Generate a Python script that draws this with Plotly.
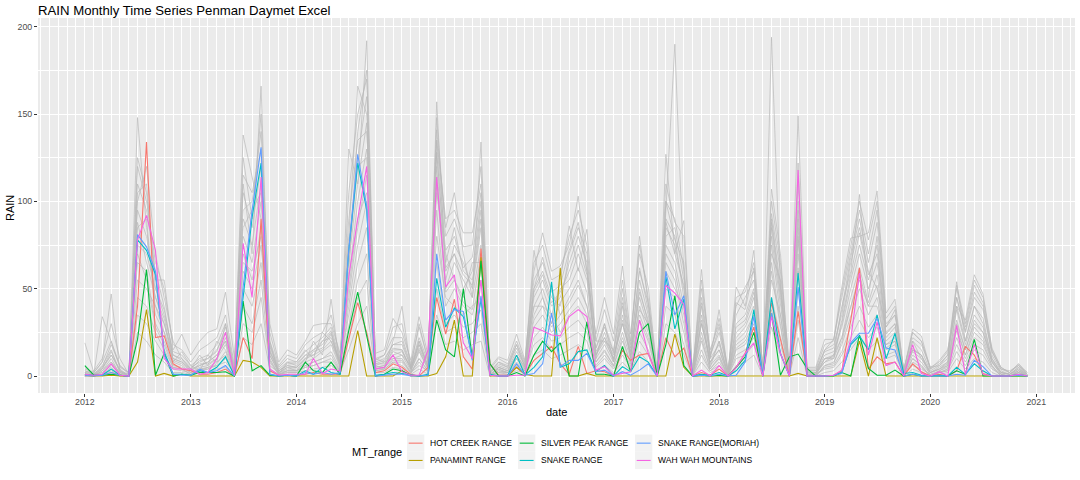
import pandas as pd
import plotly.graph_objects as go

# ---------------- data ----------------
dates = pd.date_range("2012-01-01", periods=108, freq="MS")

hot_creek = [1, 0.5, 0.5, 2, 0.5, 0, 40, 134, 22, 23, 7, 4,
             3, 1, 1, 2, 4, 0, 22, 10, 90, 3, 0.5, 0.5,
             0.5, 1, 2, 1, 1, 1, 21, 42, 25, 2, 3, 7,
             5, 1, 0, 5, 45, 24, 44, 11, 4, 73, 7, 0.5,
             0.5, 5, 1, 9, 13, 17, 7, 1, 17, 1.5, 3, 2.5,
             0, 15, 9, 12, 13, 0, 22, 11, 16, 0, 2, 0.5,
             4, 0, 5, 13, 28, 0, 42, 21, 0, 37, 0, 0,
             0, 0.5, 3, 32, 62, 4, 11, 7, 8, 0, 7, 2.5,
             0, 1, 0, 3, 17, 12, 1.5, 0, 0, 0, 0.5, 0]
panamint = [0.5, 0, 0, 0.5, 0, 0, 8, 38, 0, 1.5, 0, 1,
            0, 0, 0, 0, 0, 0, 9, 8, 5, 0, 0, 0,
            0, 0, 0, 0, 0, 0, 0, 26, 0, 0, 0, 0,
            3, 0, 0, 0, 1.5, 11, 32, 0, 0, 68, 0, 0,
            0, 5, 1, 0, 0, 0, 62, 0, 0, 1.5, 0, 0,
            0, 0, 0, 0, 0, 0, 0, 24, 5, 0, 0, 0,
            0, 0, 0, 0, 0, 0, 0, 0, 0, 1.5, 0, 0,
            0, 0, 0, 0, 20, 0, 22, 0, 0, 0, 0, 0,
            0, 0, 0, 0, 0, 0, 0, 0, 0, 0, 0, 0]
silver_peak = [6, 0.5, 0.5, 1, 0.5, 0, 21, 61, 0.5, 13, 0, 1,
               0.5, 2, 2, 2, 2.5, 0, 43, 3, 6, 0.5, 0, 0.5,
               0, 8, 3, 2, 8, 1, 26, 48, 23, 0, 1, 4,
               3, 0.5, 0, 0.5, 32, 15, 11, 50, 10, 66, 7, 0,
               0, 2, 0, 12, 20, 14, 19, 0, 0, 31, 1, 1,
               0, 17, 2.5, 25, 30, 0, 18, 46, 6, 0, 0.5, 0,
               0.5, 0, 5, 11, 25, 0, 36, 0.5, 11, 12.6, 4.4, 0,
               0, 0, 2, 0, 23.5, 4.4, 0.5, 0.5, 3.4, 0, 1, 0,
               0, 0, 0, 3, 1, 21, 0, 0, 0, 0, 0, 0]
snake = [1, 0.5, 0.5, 4, 0.5, 0, 78, 72, 58, 14, 1, 1,
         0.5, 3, 2, 5, 11, 0, 45, 91, 122, 1, 0, 0.5,
         0, 3, 1, 5, 2, 1, 72, 122, 95, 0.5, 1, 2,
         1.5, 0.5, 0, 1, 56, 28, 39, 34, 11, 44, 1, 0,
         0, 12, 0.5, 5, 11, 54, 5, 7, 14, 15, 2.5, 6,
         0, 5.4, 2.5, 11, 8, 0, 57, 27, 44, 0, 1, 0.5,
         2, 0, 3, 9, 38, 0, 45, 13, 0, 59, 0, 0,
         0, 0.5, 2, 18, 23, 15, 35, 10, 24.5, 1.5, 2, 0.5,
         0, 0.5, 0, 5, 1, 7, 3, 0, 0, 0, 1, 0]
snake_moriah = [0.5, 0, 0.5, 2, 0.5, 0, 81, 74, 60, 12, 1, 0.5,
                0.5, 4, 2, 3, 6, 0, 51, 95, 131, 1, 0, 0.5,
                0, 2, 1, 2, 1, 2, 72, 127, 97, 0, 0.5, 1,
                1, 0, 0, 0.5, 70, 32, 38, 37, 9, 46, 0.5, 0,
                0, 7, 0.5, 1.5, 7, 36, 5.4, 9, 9, 13, 2.5, 3.4,
                0, 2.5, 0.5, 3.4, 7, 0, 60, 35, 46, 0, 0.5, 0,
                1, 0, 0.5, 8, 34, 0, 36, 13, 0, 51, 0, 0,
                0, 0.5, 1.5, 19, 24.5, 24.5, 33, 16, 15, 0, 1, 0,
                0, 0, 0, 1, 0.5, 9, 5.4, 0, 0, 0, 0.5, 0]
wah_wah = [1, 0.5, 1, 7, 0.5, 0, 78, 92, 72, 10, 4, 4,
           4, 1, 2, 10, 25, 0.5, 76, 45, 114, 4, 0.5, 1,
           1, 1, 10, 1.5, 4, 3, 57, 90, 120, 4, 5, 12,
           2.5, 0.5, 0.5, 15, 114, 51, 58, 19, 10, 55, 0.5, 0,
           0, 0.5, 0.5, 28, 26, 23.5, 23, 34, 38, 34, 3.4, 5.4,
           0.5, 1.5, 2.5, 32, 13, 0, 52, 47.5, 41, 0, 3.4, 0,
           6, 0, 5, 13, 19, 0, 34, 13, 0, 118, 0, 0,
           0, 0.5, 3.4, 21, 59, 12, 31, 6, 8, 0, 18, 1.5,
           0, 2.5, 0, 29, 1, 18, 1, 0, 0, 0, 1, 0]

range_names = ["HOT CREEK RANGE", "PANAMINT RANGE", "SILVER PEAK RANGE",
               "SNAKE RANGE", "SNAKE RANGE(MORIAH)", "WAH WAH MOUNTAINS"]
range_values = [hot_creek, panamint, silver_peak, snake, snake_moriah, wah_wah]
range_colors = ["#F8766D", "#B79F00", "#00BA38", "#00BFC4", "#619CFF", "#F564E3"]

# other ranges (grey background lines)
g01 = [19, 2, 8, 47, 3, 0, 148, 85, 40, 30, 8, 14, 6, 3, 12, 8, 30, 1, 110, 70, 166, 12, 2, 5,
       3, 8, 20, 12, 44, 4, 130, 110, 192, 6, 4, 20, 40, 3, 15, 4, 157, 60, 70, 50, 60, 100, 1, 4,
       2, 10, 3, 50, 60, 45, 40, 70, 85, 70, 10, 30, 8, 40, 10, 55, 35, 0, 95, 190, 60, 0, 40, 5,
       20, 0, 30, 35, 50, 0, 194, 50, 2, 100, 1, 2, 8, 12, 40, 60, 104, 45, 80, 25, 30, 1, 20, 10,
       2, 5, 8, 54, 20, 40, 30, 10, 2, 1, 5, 0]
g02 = [5, 1, 34, 20, 6, 2, 100, 120, 70, 45, 20, 10, 4, 12, 6, 20, 15, 3, 138, 114, 90, 20, 1, 8,
       8, 15, 10, 25, 20, 8, 80, 166, 150, 10, 8, 10, 12, 6, 30, 8, 141, 85, 105, 70, 45, 134, 2, 8,
       6, 18, 5, 72, 45, 30, 55, 86, 60, 84, 20, 20, 15, 50, 18, 80, 40, 1, 127, 70, 89, 1, 61, 10,
       38, 2, 51, 40, 72, 3, 107, 70, 0, 122, 3, 1, 15, 21, 51, 79, 80, 82, 106, 36, 44, 3, 27, 23,
       4, 9, 15, 40, 32, 58, 47, 16, 5, 2, 7, 1]
g03 = [2, 3, 10, 30, 10, 1, 125, 105, 55, 55, 15, 24, 12, 20, 25, 27, 48, 10, 95, 100, 140, 30, 8, 15,
       12, 20, 29, 30, 30, 13, 60, 140, 175, 13, 15, 33, 25, 9, 34, 12, 135, 90, 95, 82, 82, 110, 5, 11,
       9, 24, 9, 60, 82, 60, 63, 75, 103, 60, 24, 45, 24, 63, 24, 70, 51, 2, 100, 90, 61, 3, 50, 15,
       30, 3, 40, 51, 60, 5, 93, 60, 5, 149, 5, 5, 21, 21, 45, 70, 95, 70, 95, 30, 35, 4, 22, 18,
       5, 6, 12, 50, 28, 52, 42, 14, 4, 3, 6, 2]
g04 = [0, 0, 5, 12, 4, 0, 110, 95, 60, 40, 10, 8, 3, 6, 8, 12, 20, 2, 105, 85, 120, 15, 3, 6,
       5, 10, 15, 18, 25, 6, 75, 125, 160, 5, 6, 15, 15, 4, 20, 5, 128, 65, 85, 60, 55, 95, 0, 5,
       3, 12, 4, 45, 55, 40, 45, 65, 80, 65, 12, 25, 10, 35, 12, 50, 30, 0, 90, 80, 45, 0, 35, 8,
       15, 0, 25, 30, 45, 0, 85, 45, 0, 95, 0, 0, 10, 10, 30, 55, 75, 55, 75, 22, 28, 0, 15, 12,
       0, 3, 6, 38, 18, 35, 28, 8, 1, 0, 3, 0]
g05 = [3, 1, 6, 15, 2, 1, 95, 80, 45, 30, 12, 10, 5, 8, 10, 15, 25, 4, 90, 75, 110, 18, 4, 8,
       6, 12, 12, 20, 22, 8, 65, 110, 145, 8, 10, 18, 18, 5, 18, 6, 120, 55, 75, 65, 50, 85, 2, 6,
       4, 14, 6, 40, 50, 35, 50, 55, 70, 55, 14, 22, 12, 30, 14, 45, 28, 1, 85, 75, 50, 1, 30, 10,
       18, 1, 22, 28, 40, 2, 80, 40, 2, 85, 2, 2, 12, 14, 28, 50, 70, 50, 65, 20, 25, 2, 14, 10,
       2, 4, 8, 32, 15, 32, 25, 10, 2, 1, 4, 1]
g06 = [1, 0, 3, 10, 1, 0, 85, 90, 35, 25, 8, 6, 2, 5, 6, 10, 18, 1, 80, 65, 100, 12, 2, 4,
       4, 8, 10, 14, 18, 5, 55, 100, 130, 5, 6, 14, 12, 3, 14, 4, 114, 50, 65, 55, 45, 75, 1, 4,
       2, 10, 4, 35, 45, 30, 42, 50, 62, 48, 10, 18, 8, 25, 10, 40, 25, 0, 75, 65, 40, 0, 25, 6,
       12, 0, 18, 22, 35, 1, 75, 35, 1, 80, 1, 1, 8, 10, 22, 45, 62, 42, 58, 18, 20, 1, 12, 8,
       1, 3, 5, 28, 12, 28, 22, 8, 1, 0, 3, 0]
g07 = [4, 2, 8, 20, 5, 2, 75, 70, 50, 35, 14, 12, 6, 10, 12, 18, 30, 5, 70, 55, 85, 20, 5, 10,
       8, 14, 18, 22, 28, 9, 45, 85, 115, 9, 12, 22, 22, 6, 22, 8, 105, 70, 55, 45, 65, 65, 3, 8,
       5, 18, 7, 55, 65, 50, 35, 45, 55, 40, 16, 30, 14, 45, 16, 60, 42, 1, 80, 85, 55, 2, 45, 12,
       25, 2, 35, 45, 55, 3, 70, 55, 3, 70, 3, 3, 15, 18, 35, 65, 85, 60, 50, 28, 38, 3, 25, 20,
       4, 7, 12, 45, 25, 45, 38, 14, 4, 2, 6, 1]
g08 = [0, 0, 2, 8, 1, 0, 65, 60, 30, 20, 6, 5, 2, 4, 5, 8, 12, 1, 60, 50, 75, 10, 1, 3,
       3, 6, 8, 10, 14, 4, 40, 75, 100, 4, 5, 10, 10, 2, 10, 3, 95, 40, 50, 40, 35, 55, 0, 3,
       2, 8, 3, 28, 35, 25, 30, 38, 45, 35, 8, 15, 6, 20, 8, 32, 20, 0, 65, 55, 30, 0, 20, 4,
       10, 0, 15, 18, 28, 0, 60, 28, 0, 60, 0, 0, 6, 8, 18, 35, 50, 35, 45, 15, 18, 0, 10, 6,
       0, 2, 4, 22, 10, 22, 18, 6, 0, 0, 2, 0]
g09 = [2, 1, 4, 12, 3, 1, 55, 50, 40, 25, 10, 8, 4, 6, 8, 12, 20, 3, 50, 40, 65, 14, 3, 6,
       5, 10, 12, 15, 20, 6, 35, 65, 85, 6, 8, 16, 15, 4, 16, 5, 80, 45, 40, 35, 40, 45, 1, 5,
       3, 12, 5, 40, 40, 35, 25, 35, 40, 30, 12, 20, 10, 30, 12, 38, 30, 1, 60, 50, 40, 1, 30, 8,
       15, 1, 20, 25, 35, 2, 55, 35, 2, 50, 2, 2, 10, 12, 22, 40, 55, 40, 40, 18, 22, 2, 15, 12,
       2, 4, 6, 30, 15, 30, 25, 8, 2, 1, 3, 1]
g10 = [0, 0, 1, 5, 0, 0, 45, 40, 25, 15, 5, 4, 1, 3, 4, 6, 10, 1, 40, 30, 55, 8, 1, 2,
       2, 5, 6, 8, 10, 3, 28, 55, 70, 3, 4, 8, 8, 2, 8, 2, 65, 30, 35, 28, 30, 38, 0, 2,
       1, 6, 2, 22, 28, 20, 22, 28, 32, 25, 6, 12, 5, 15, 6, 25, 15, 0, 50, 45, 25, 0, 15, 3,
       8, 0, 12, 15, 22, 0, 45, 22, 0, 40, 0, 0, 5, 6, 14, 28, 40, 28, 35, 12, 14, 0, 8, 5,
       0, 2, 3, 18, 8, 18, 15, 5, 0, 0, 2, 0]
g11 = [1, 0, 3, 8, 2, 0, 35, 30, 20, 12, 4, 3, 2, 3, 5, 6, 8, 2, 30, 25, 45, 6, 2, 3,
       3, 5, 6, 8, 8, 3, 22, 45, 55, 3, 4, 8, 6, 2, 6, 3, 50, 25, 28, 22, 25, 30, 1, 2,
       2, 5, 3, 18, 22, 15, 18, 22, 25, 20, 5, 10, 4, 12, 5, 20, 12, 0, 40, 35, 18, 0, 12, 3,
       6, 0, 10, 12, 18, 1, 38, 18, 1, 32, 1, 1, 4, 5, 12, 22, 32, 22, 28, 10, 12, 1, 6, 4,
       1, 2, 3, 14, 6, 15, 12, 4, 1, 0, 2, 0]
g12 = [0, 0, 1, 3, 0, 0, 25, 20, 12, 8, 2, 2, 1, 2, 2, 4, 5, 0, 22, 18, 30, 4, 1, 2,
       2, 3, 4, 5, 6, 2, 15, 30, 40, 2, 2, 5, 4, 1, 4, 1, 35, 18, 20, 15, 18, 20, 0, 1,
       1, 3, 2, 12, 15, 10, 12, 15, 18, 14, 3, 6, 2, 8, 3, 14, 8, 0, 30, 25, 12, 0, 8, 2,
       4, 0, 6, 8, 12, 0, 28, 12, 0, 22, 0, 0, 2, 3, 8, 15, 22, 15, 20, 6, 8, 0, 4, 2,
       0, 1, 2, 10, 4, 10, 8, 2, 0, 0, 1, 0]
g13 = [3, 1, 5, 18, 6, 1, 120, 100, 65, 50, 18, 15, 8, 15, 18, 22, 35, 6, 125, 90, 150, 25, 6, 12,
       10, 18, 22, 25, 35, 10, 105, 150, 170, 10, 12, 28, 30, 7, 28, 10, 148, 80, 90, 74, 75, 120, 4, 10,
       7, 20, 8, 65, 75, 55, 58, 80, 95, 75, 20, 38, 20, 55, 20, 75, 45, 2, 110, 88, 80, 2, 55, 13,
       33, 3, 45, 48, 65, 4, 100, 65, 4, 110, 4, 4, 18, 20, 48, 75, 100, 78, 100, 33, 40, 3, 25, 20,
       5, 8, 14, 52, 30, 55, 45, 15, 5, 2, 7, 2]
g14 = [2, 0, 4, 14, 3, 0, 105, 110, 50, 38, 12, 9, 4, 9, 10, 14, 28, 3, 115, 105, 130, 17, 3, 7,
       7, 12, 15, 20, 26, 7, 90, 135, 140, 7, 9, 18, 20, 5, 20, 6, 135, 72, 80, 62, 68, 105, 2, 7,
       5, 16, 6, 50, 68, 48, 52, 72, 88, 60, 16, 28, 13, 42, 14, 62, 38, 1, 100, 78, 65, 1, 42, 11,
       28, 2, 42, 38, 62, 3, 90, 52, 3, 90, 3, 3, 14, 16, 38, 68, 90, 65, 88, 28, 35, 2, 20, 15,
       3, 6, 10, 45, 26, 48, 40, 12, 3, 1, 5, 1]
g15 = [1, 1, 2, 6, 2, 0, 88, 65, 45, 33, 9, 7, 3, 7, 7, 10, 22, 2, 85, 95, 105, 14, 2, 5,
       5, 9, 14, 16, 24, 5, 70, 120, 125, 7, 7, 12, 14, 4, 18, 5, 128, 62, 70, 58, 52, 90, 1, 5,
       3, 12, 5, 48, 58, 42, 48, 60, 75, 58, 12, 22, 9, 32, 11, 48, 32, 0, 88, 70, 52, 0, 32, 7,
       20, 1, 28, 32, 48, 1, 88, 48, 1, 78, 1, 1, 10, 11, 32, 58, 82, 58, 70, 24, 30, 1, 16, 12,
       2, 4, 7, 40, 20, 40, 33, 9, 2, 1, 4, 0]
g16 = [0, 0, 1, 4, 1, 0, 70, 55, 28, 18, 5, 4, 1, 4, 4, 7, 14, 1, 65, 60, 80, 9, 1, 3,
       3, 6, 8, 10, 12, 3, 50, 90, 105, 4, 5, 9, 9, 2, 10, 3, 110, 48, 55, 42, 38, 70, 0, 3,
       2, 7, 3, 32, 40, 28, 35, 42, 52, 40, 8, 14, 6, 22, 7, 35, 22, 0, 70, 60, 35, 0, 22, 4,
       11, 0, 16, 20, 30, 0, 65, 30, 0, 62, 0, 0, 6, 7, 20, 40, 58, 40, 52, 16, 20, 0, 10, 6,
       0, 2, 4, 26, 12, 25, 20, 6, 0, 0, 2, 0]
grey_series = [g01, g02, g03, g04, g05, g06, g07, g08,
               g09, g10, g11, g12, g13, g14, g15, g16]

x_tick_labels = ["2012", "2013", "2014", "2015", "2016", "2017", "2018", "2019", "2020", "2021"]
y_tick_values = [0, 50, 100, 150, 200]

# ---------------- figure ----------------
W, H = 1080, 480
ML, MR, MT, MB = 38, 5, 18, 87
PW, PH = W - ML - MR, H - MT - MB


def px_x(px):
    return (px - ML) / PW


def px_y(py):
    return (H - MB - py) / PH


fig = go.Figure()
for s in grey_series:
    fig.add_trace(go.Scatter(x=dates, y=s, mode="lines",
                             line=dict(color="rgba(185,185,185,0.7)", width=1),
                             showlegend=False, hoverinfo="skip"))
for name, vals, col in zip(range_names, range_values, range_colors):
    fig.add_trace(go.Scatter(x=dates, y=vals, mode="lines", name=name,
                             line=dict(color=col, width=1.1), showlegend=False))

tick_font = dict(family="Liberation Sans, Arial, sans-serif", size=8.8, color="#4D4D4D")
fig.update_layout(
    width=W, height=H,
    margin=dict(l=ML, r=MR, t=MT, b=MB),
    paper_bgcolor="white", plot_bgcolor="#EBEBEB",
    font=dict(family="Liberation Sans, Arial, sans-serif", color="black"),
    title=dict(text="RAIN Monthly Time Series Penman Daymet Excel",
               x=38 / W, xanchor="left", xref="container",
               y=1 - 10.5 / H, yanchor="middle", yref="container",
               font=dict(size=13.2, color="black")),
    xaxis=dict(type="date", range=["2011-07-23", "2021-05-15"],
               tickvals=[f"{t}-01-01" for t in x_tick_labels], ticktext=x_tick_labels,
               showgrid=True, gridcolor="white", gridwidth=1.1,
               minor=dict(dtick="M1", tick0="2012-01-01", showgrid=True,
                          gridcolor="white", gridwidth=0.5, ticks=""),
               ticks="outside", ticklen=3, tickcolor="#333333", tickwidth=1,
               ticklabelstandoff=-3,
               tickfont=tick_font, zeroline=False, showline=False),
    yaxis=dict(range=[-9.7, 205], tickvals=y_tick_values,
               showgrid=True, gridcolor="white", gridwidth=1.1,
               minor=dict(dtick=25, tick0=0, showgrid=True, gridcolor="white",
                          gridwidth=0.5, ticks=""),
               ticks="outside", ticklen=3, tickcolor="#333333", tickwidth=1,
               tickfont=tick_font, zeroline=False, showline=False),
)

annotations = [
    dict(text="date", x=px_x(556), y=px_y(412), xref="paper", yref="paper",
         showarrow=False, xanchor="center", yanchor="middle", font=dict(size=11)),
    dict(text="RAIN", x=px_x(10), y=px_y(208), xref="paper", yref="paper",
         showarrow=False, xanchor="center", yanchor="middle", textangle=-90,
         font=dict(size=11)),
    dict(text="MT_range", x=px_x(350), y=px_y(452), xref="paper", yref="paper",
         showarrow=False, xanchor="left", yanchor="middle", font=dict(size=11)),
]
shapes = []
key_x = [407, 518, 635]
row_top = [434.5, 451.8]
ks = 17.3
for i, (name, col) in enumerate(zip(range_names, range_colors)):
    c, r = i // 2, i % 2
    x0, y0 = key_x[c], row_top[r]
    shapes.append(dict(type="rect", xref="paper", yref="paper",
                       x0=px_x(x0), x1=px_x(x0 + ks), y0=px_y(y0), y1=px_y(y0 + ks),
                       fillcolor="#F2F2F2", line=dict(width=0), layer="above"))
    shapes.append(dict(type="line", xref="paper", yref="paper",
                       x0=px_x(x0 + 1.7), x1=px_x(x0 + ks - 1.7),
                       y0=px_y(y0 + ks / 2), y1=px_y(y0 + ks / 2),
                       line=dict(color=col, width=1.1), layer="above"))
    annotations.append(dict(text=name, x=px_x(x0 + ks + 4), y=px_y(y0 + ks / 2),
                            xref="paper", yref="paper", showarrow=False,
                            xanchor="left", yanchor="middle",
                            font=dict(size=8.5, color="black")))
fig.update_layout(annotations=annotations, shapes=shapes)

fig.write_html("out.html")
